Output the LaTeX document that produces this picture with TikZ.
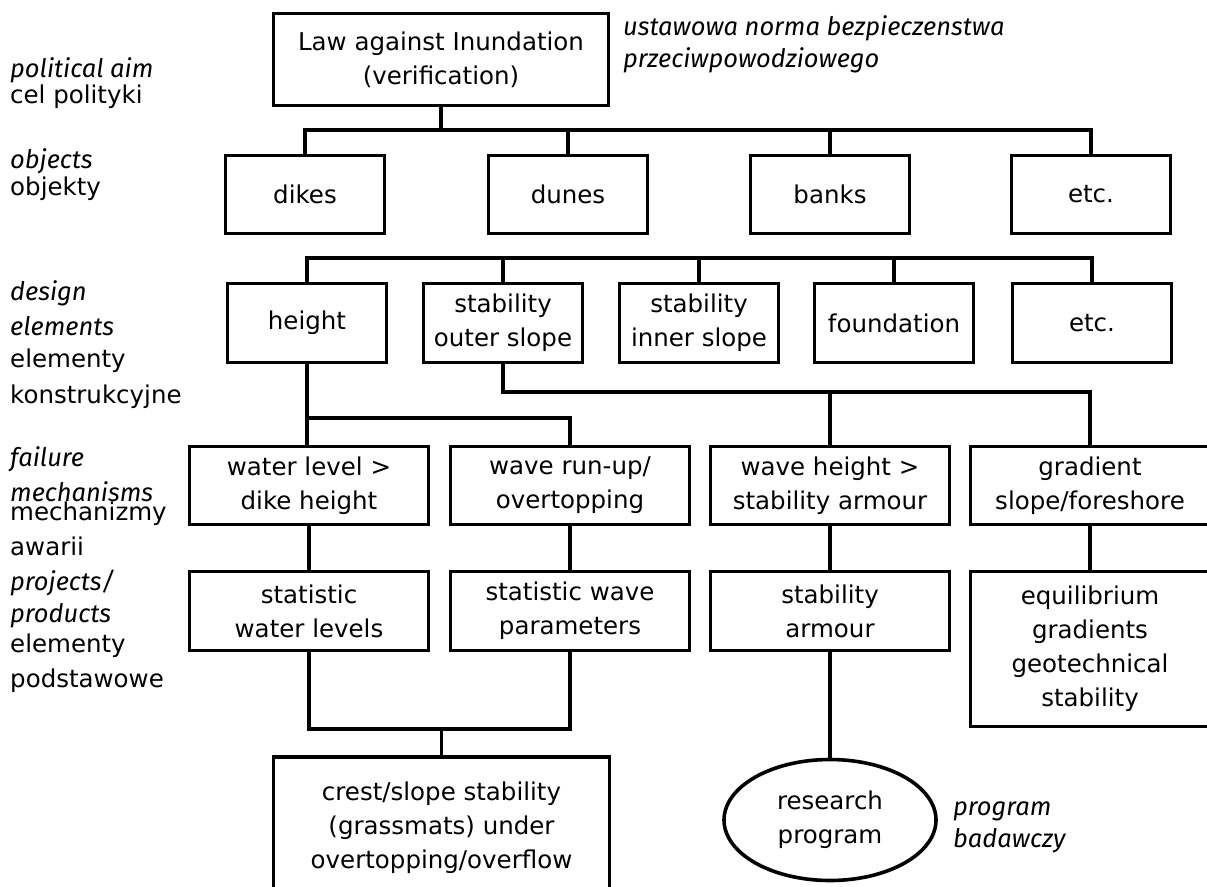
\documentclass[tikz,border=0pt]{standalone}
\usepackage{fontspec}
\setmainfont{DejaVu Sans}[ItalicFont={Fira Sans Italic}, ItalicFeatures={Scale=1.04}]
\usetikzlibrary{shapes.geometric}
\newcommand\boxfont{\fontsize{24.5pt}{34pt}\selectfont}
\begin{document}
\begin{tikzpicture}[x=1pt,y=-1pt,
  box/.style={draw, line width=3.6pt, align=center, inner sep=0pt, font=\boxfont},
  conn/.style={line width=3.6pt},
  lab/.style={anchor=base west, inner sep=0pt, font=\boxfont},
  ilab/.style={lab, font=\boxfont\itshape}]
\useasboundingbox (0,0) rectangle (1207,886);
\clip (0,0) rectangle (1207,886);

% level labels on the left
\node[ilab] (l1a) at (10,77)  {political aim};
\node[lab]  (l1b) at (10,103) {cel polityki};
\node[ilab] (l2a) at (10,168) {objects};
\node[lab]  (l2b) at (10,195) {objekty};
\node[ilab] (l3a) at (10,300) {design};
\node[ilab] (l3b) at (10,335) {elements};
\node[lab]  (l3c) at (10,367) {elementy};
\node[lab]  (l3d) at (10,403) {konstrukcyjne};
\node[ilab] (l4a) at (10,466) {failure};
\node[ilab] (l4b) at (10,501) {mechanisms};
\node[lab]  (l4c) at (10,520) {mechanizmy};
\node[lab]  (l4d) at (10,555) {awarii};
\node[ilab] (l5a) at (10,590) {projects/};
\node[ilab] (l5b) at (10,622) {products};
\node[lab]  (l5c) at (10,652) {elementy};
\node[lab]  (l5d) at (10,687) {podstawowe};

% political aim
\node[box, minimum width=335pt, minimum height=92pt] (law) at (441,59.5)
  {Law against Inundation\\(verification)};
\node[ilab] (lawpl1) at (623,35) {ustawowa norma bezpieczenstwa};
\node[ilab] (lawpl2) at (623,67) {przeciwpowodziowego};

% objects
\node[box, minimum width=159pt, minimum height=78pt] (dikes) at (305,194.5) {dikes};
\node[box, minimum width=159pt, minimum height=78pt] (dunes) at (568,194.5) {dunes};
\node[box, minimum width=159pt, minimum height=78pt] (banks) at (830,194.5) {banks};
\node[box, minimum width=159pt, minimum height=78pt] (etc1)  at (1091,194.5) {etc.};

% design elements
\node[box, minimum width=159pt, minimum height=79pt] (height) at (307,323) {height};
\node[box, minimum width=159pt, minimum height=79pt] (stabo)  at (503,323) {stability\\outer slope};
\node[box, minimum width=159pt, minimum height=79pt] (stabi)  at (699,323) {stability\\inner slope};
\node[box, minimum width=159pt, minimum height=79pt] (found)  at (894,323) {foundation};
\node[box, minimum width=159pt, minimum height=79pt] (etc2)   at (1092,323) {etc.};

% failure mechanisms
\node[box, minimum width=239pt, minimum height=78pt] (wl)  at (309,485.5) {water level >\\dike height};
\node[box, minimum width=239pt, minimum height=78pt] (wru) at (570,485.5) {wave run-up/\\overtopping};
\node[box, minimum width=239pt, minimum height=78pt] (wh)  at (830,485.5) {wave height >\\stability armour};
\node[box, minimum width=239pt, minimum height=78pt] (gr)  at (1090,485.5) {gradient\\slope/foreshore};

% projects / products
\node[box, minimum width=239pt, minimum height=79pt] (swl) at (309,611) {statistic\\water levels};
\node[box, minimum width=239pt, minimum height=79pt] (swp) at (570,611) {statistic wave\\parameters};
\node[box, minimum width=239pt, minimum height=79pt] (sa)  at (830,611) {stability\\armour};
\node[box, minimum width=239pt, minimum height=155pt] (eq) at (1090,649)
  {equilibrium\\gradients\\geotechnical\\stability};

% results
\node[box, minimum width=336pt, minimum height=142pt] (crest) at (441.5,828)
  {crest/slope stability\\(grassmats) under\\overtopping/overflow};
\node[box, ellipse, minimum width=212pt, minimum height=121pt] (rp) at (830,820)
  {research\\program};
\node[ilab] (rppl1) at (953,815) {program};
\node[ilab] (rppl2) at (953,847) {badawczy};

% bus levels
\coordinate (b1) at (0,130);
\coordinate (b2) at (0,258);
\coordinate (b3) at (0,392);
\coordinate (b4) at (0,418);
\coordinate (b5) at (0,729);

% connectors
\draw[conn] (law.south) -- (law.south |- b1);
\draw[conn] (dikes.north) -- (dikes.north |- b1) -- (etc1.north |- b1) -- (etc1.north);
\draw[conn] (dunes.north) -- (dunes.north |- b1);
\draw[conn] (banks.north) -- (banks.north |- b1);

\draw[conn] (height.north) -- (height.north |- b2) -- (etc2.north |- b2) -- (etc2.north);
\draw[conn] (stabo.north) -- (stabo.north |- b2);
\draw[conn] (stabi.north) -- (stabi.north |- b2);
\draw[conn] (found.north) -- (found.north |- b2);

\draw[conn] (height.south) -- (height.south |- wl.north);
\draw[conn] (height.south |- b4) -- (wru.north |- b4) -- (wru.north);

\draw[conn] (stabo.south) -- (stabo.south |- b3) -- (gr.north |- b3) -- (gr.north);
\draw[conn] (wh.north) -- (wh.north |- b3);

\draw[conn] (wl.south) -- (swl.north);
\draw[conn] (wru.south) -- (swp.north);
\draw[conn] (wh.south) -- (sa.north);
\draw[conn] (gr.south) -- (eq.north);

\draw[conn] (swl.south) -- (swl.south |- b5) -- (swp.south |- b5) -- (swp.south);
\draw[conn] (crest.north) -- (crest.north |- b5);
\draw[conn] (sa.south) -- (rp.north);
\end{tikzpicture}
\end{document}
